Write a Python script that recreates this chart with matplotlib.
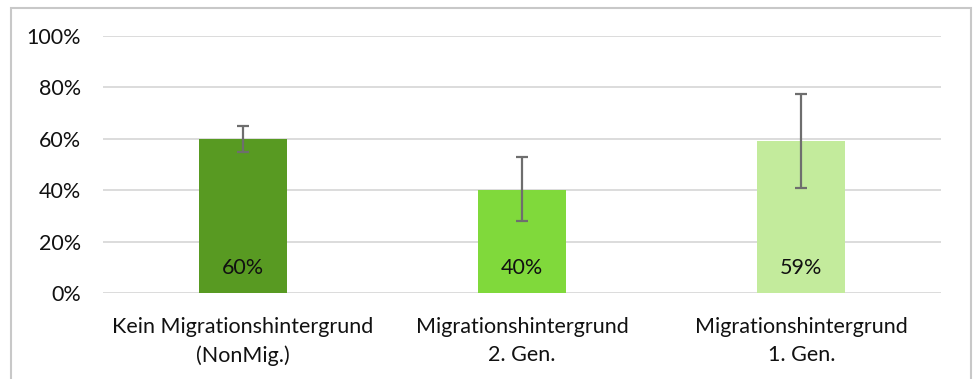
import matplotlib.pyplot as plt
from matplotlib.patches import Rectangle
from matplotlib.ticker import PercentFormatter

plt.rcParams['font.family'] = ['Lato', 'DejaVu Sans']

categories = ['Kein Migrationshintergrund\n(NonMig.)',
              'Migrationshintergrund\n2. Gen.',
              'Migrationshintergrund\n1. Gen.']
values = [0.60, 0.40, 0.59]
err_low = [0.05, 0.12, 0.18]
err_high = [0.05, 0.13, 0.185]
bar_labels = ['60%', '40%', '59%']
colors = ['#589A22', '#80D93B', '#C3EB9C']

fig = plt.figure(figsize=(9.76, 3.79), dpi=100)
fig.patches.append(Rectangle((10.5 / 976, -0.1), 960 / 976, 1.1 - 8.5 / 379,
                             transform=fig.transFigure, fill=False,
                             edgecolor='#C8C8C8', linewidth=1.5))

ax = fig.add_axes([103 / 976, 86 / 379, 838 / 976, 257 / 379])
x = range(len(categories))
ax.bar(x, values, width=0.315, color=colors, zorder=2)
ax.errorbar(x, values, yerr=[err_low, err_high], fmt='none',
            ecolor='#6E6E6E', elinewidth=1.6, capsize=4.5, capthick=1.6, zorder=3)

for i, lab in enumerate(bar_labels):
    ax.text(i, 0.097, lab, ha='center', va='center', fontsize=15.5, color='#111111', zorder=4)

ax.set_xlim(-0.5, 2.5)
ax.set_ylim(0, 1)
ax.set_yticks([0, 0.2, 0.4, 0.6, 0.8, 1.0])
ax.yaxis.set_major_formatter(PercentFormatter(1.0, decimals=0))
ax.set_xticks(list(x))
ax.set_xticklabels(categories, linespacing=1.5)
ax.tick_params(axis='both', length=0, labelsize=15.5, colors='#111111')
ax.tick_params(axis='y', pad=16)
ax.tick_params(axis='x', pad=17)
ax.grid(axis='y', color='#D9D9D9', linewidth=1.3, zorder=0)
ax.set_axisbelow(True)
for s in ax.spines.values():
    s.set_visible(False)

fig.savefig('out.png', dpi=100)
